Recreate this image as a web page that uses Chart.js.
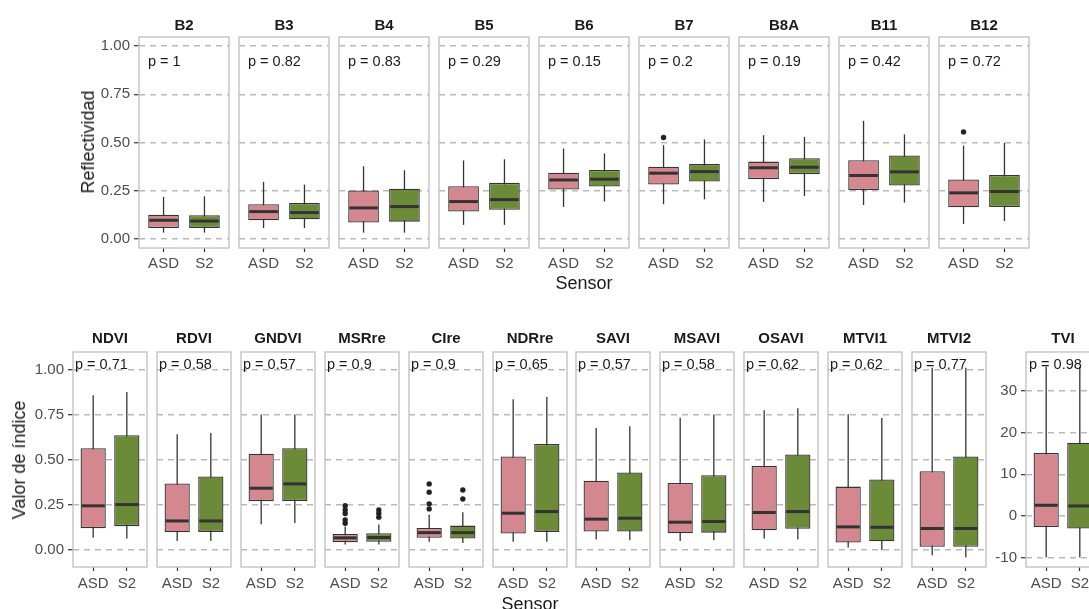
<!DOCTYPE html>
<html>
<head>
<meta charset="utf-8">
<script src="https://cdn.jsdelivr.net/npm/chart.js@4.4.1/dist/chart.umd.min.js"></script>
<style>
  html, body { margin: 0; padding: 0; background: #fff; }
  #wrap { position: relative; width: 1089px; height: 609px; overflow: hidden; }
  canvas { position: absolute; }
  .lbl { position: absolute; white-space: nowrap; line-height: 1; font-family: 'Liberation Sans', Arial, sans-serif; color: #1a1a1a; }
</style>
</head>
<body>
<div id="wrap"></div>
<script>
// data: [lower whisker, Q1, median, Q3, upper whisker]
const sensors = ['ASD', 'S2'];

const bandNames = ['B2', 'B3', 'B4', 'B5', 'B6', 'B7', 'B8A', 'B11', 'B12'];
const bandP = ['1', '0.82', '0.83', '0.29', '0.15', '0.2', '0.19', '0.42', '0.72'];
const bandAsd = [
    [0.033, 0.057, 0.097, 0.126, 0.218],
    [0.057, 0.097, 0.142, 0.180, 0.296],
    [0.033, 0.085, 0.161, 0.251, 0.377],
    [0.073, 0.142, 0.194, 0.273, 0.407],
    [0.166, 0.256, 0.306, 0.343, 0.469],
    [0.180, 0.282, 0.341, 0.375, 0.486],
    [0.192, 0.310, 0.369, 0.401, 0.538],
    [0.176, 0.254, 0.329, 0.408, 0.612],
    [0.078, 0.164, 0.239, 0.308, 0.484]
];
const bandS2 = [
    [0.033, 0.057, 0.093, 0.123, 0.221],
    [0.057, 0.102, 0.137, 0.187, 0.282],
    [0.033, 0.090, 0.168, 0.260, 0.356],
    [0.073, 0.151, 0.204, 0.291, 0.413],
    [0.194, 0.272, 0.310, 0.358, 0.443],
    [0.206, 0.298, 0.349, 0.388, 0.516],
    [0.223, 0.336, 0.372, 0.419, 0.529],
    [0.189, 0.277, 0.348, 0.433, 0.542],
    [0.093, 0.166, 0.246, 0.332, 0.498]
];
const bandAsdOut = [[], [], [], [], [], [0.526], [], [], [0.555]];
const bandS2Out = [[], [], [], [], [], [], [], [], []];

const indexNames = ['NDVI', 'RDVI', 'GNDVI', 'MSRre', 'CIre', 'NDRre', 'SAVI', 'MSAVI', 'OSAVI', 'MTVI1', 'MTVI2', 'TVI'];
const indexP = ['0.71', '0.58', '0.57', '0.9', '0.9', '0.65', '0.57', '0.58', '0.62', '0.62', '0.77', '0.98'];
const indexAsd = [
    [0.065, 0.119, 0.243, 0.563, 0.857],
    [0.048, 0.096, 0.159, 0.367, 0.641],
    [0.141, 0.269, 0.341, 0.533, 0.750],
    [0.028, 0.041, 0.065, 0.087, 0.128],
    [0.044, 0.065, 0.094, 0.120, 0.193],
    [0.043, 0.089, 0.202, 0.517, 0.835],
    [0.056, 0.100, 0.169, 0.383, 0.676],
    [0.048, 0.091, 0.152, 0.370, 0.733],
    [0.061, 0.107, 0.206, 0.465, 0.774],
    [0.011, 0.039, 0.126, 0.350, 0.752],
    [-0.031, 0.015, 0.117, 0.435, 1.010],
    [-10, -2.64, 2.56, 15.1, 35.8]
];
const indexS2 = [
    [0.061, 0.130, 0.250, 0.635, 0.876],
    [0.048, 0.098, 0.159, 0.406, 0.648],
    [0.148, 0.270, 0.365, 0.563, 0.750],
    [0.028, 0.043, 0.067, 0.091, 0.139],
    [0.037, 0.061, 0.094, 0.133, 0.207],
    [0.043, 0.098, 0.211, 0.587, 0.848],
    [0.052, 0.100, 0.174, 0.428, 0.685],
    [0.052, 0.094, 0.156, 0.413, 0.750],
    [0.056, 0.115, 0.211, 0.528, 0.785],
    [-0.002, 0.046, 0.124, 0.389, 0.731],
    [-0.044, 0.015, 0.117, 0.517, 1.010],
    [-10, -3.04, 2.4, 17.6, 35.8]
];
const indexAsdOut = [[], [], [], [0.146, 0.165, 0.2, 0.22, 0.244], [0.226, 0.254, 0.319, 0.365], [], [], [], [], [], [], []];
const indexS2Out = [[], [], [], [0.18, 0.2, 0.22], [0.281, 0.331], [], [], [], [], [], [], []];

const unitTicks = [0, 0.25, 0.5, 0.75, 1];
const tviTicks = [-10, 0, 10, 20, 30];

const FONT = "'Liberation Sans', Arial, sans-serif";
const PINK = '#d4878f';
const GREEN = '#6b8b38';
const INK = '#333333';
const wrap = document.getElementById('wrap');

function addText(txt, x, y, css) {
    const d = document.createElement('div');
    d.className = 'lbl';
    d.textContent = txt;
    d.style.left = x + 'px';
    d.style.top = y + 'px';
    Object.assign(d.style, css || {});
    wrap.appendChild(d);
    return d;
}

function boxPlugin(stats) {
    return {
        id: 'boxes',
        beforeDatasetsDraw(chart) {
            const { ctx, scales: { x, y } } = chart;
            ctx.save();
            ctx.strokeStyle = INK;
            ctx.lineWidth = 1.3;
            stats.forEach((s, i) => {
                const px = x.getPixelForValue(i + 1);
                ctx.beginPath();
                ctx.moveTo(px, y.getPixelForValue(s[0]));
                ctx.lineTo(px, y.getPixelForValue(s[4]));
                ctx.stroke();
            });
            ctx.restore();
        },
        afterDatasetsDraw(chart) {
            const { ctx, chartArea: a, scales: { y } } = chart;
            const bars = chart.getDatasetMeta(0).data;
            ctx.save();
            ctx.strokeStyle = INK;
            ctx.lineWidth = 3;
            bars.forEach((bar, i) => {
                const py = y.getPixelForValue(stats[i][2]);
                ctx.beginPath();
                ctx.moveTo(bar.x - bar.width / 2 + 1, py);
                ctx.lineTo(bar.x + bar.width / 2 - 1, py);
                ctx.stroke();
            });
            // panel border
            ctx.strokeStyle = '#c4c4c4';
            ctx.lineWidth = 1.4;
            ctx.strokeRect(a.left, a.top, a.right - a.left, a.bottom - a.top);
            ctx.restore();
        }
    };
}

function makePanel(cfg) {
    const padL = 20, padR = 20, padT = 25;
    const yW = cfg.showY ? 45 : 0;
    const xH = 32;
    const W = padL + yW + cfg.w + padR;
    const H = padT + cfg.h + xH;
    const canvas = document.createElement('canvas');
    canvas.width = W;
    canvas.height = H;
    canvas.style.left = (cfg.x - padL - yW) + 'px';
    canvas.style.top = (cfg.y - padT) + 'px';
    canvas.style.width = W + 'px';
    canvas.style.height = H + 'px';
    wrap.appendChild(canvas);

    const stats = [cfg.asd, cfg.s2];
    const outliers = cfg.asdOut.map(v => ({ x: 1, y: v }))
        .concat(cfg.s2Out.map(v => ({ x: 2, y: v })));

    new Chart(canvas, {
        type: 'bar',
        data: {
            datasets: [
                {
                    type: 'bar',
                    data: stats.map((s, i) => ({ x: i + 1, y: [s[1], s[3]] })),
                    backgroundColor: [PINK, GREEN],
                    borderColor: INK,
                    borderWidth: 1.3,
                    borderSkipped: false,
                    barPercentage: 0.75,
                    categoryPercentage: 1
                },
                {
                    type: 'scatter',
                    data: outliers,
                    pointRadius: 2.7,
                    backgroundColor: '#222',
                    borderWidth: 0
                }
            ]
        },
        options: {
            responsive: false,
            animation: false,
            devicePixelRatio: 1,
            layout: { padding: { left: padL, right: padR, top: padT, bottom: 0 } },
            plugins: { legend: { display: false }, tooltip: { enabled: false } },
            scales: {
                x: {
                    type: 'linear',
                    min: 0.4,
                    max: 2.6,
                    offset: false,
                    afterBuildTicks: s => { s.ticks = [1, 2].map(v => ({ value: v })); },
                    afterFit: s => { s.height = xH; },
                    grid: { display: true, offset: false, drawOnChartArea: false, drawTicks: true, tickLength: 4, tickColor: INK, tickWidth: 1.2, color: '#fff' },
                    border: { display: false },
                    ticks: {
                        autoSkip: false, maxRotation: 0, padding: cfg.xPad,
                        color: '#4d4d4d', font: { family: FONT, size: 15 },
                        callback: v => sensors[v - 1]
                    }
                },
                y: {
                    type: 'linear',
                    min: cfg.min,
                    max: cfg.max,
                    afterBuildTicks: s => { s.ticks = cfg.ticks.map(v => ({ value: v })); },
                    afterFit: s => { s.width = yW; },
                    grid: { color: '#b9b9b9', lineWidth: 1.4, drawTicks: cfg.showY, tickLength: 5, tickColor: INK, tickWidth: 1.2 },
                    border: { display: false, dash: [6, 5] },
                    ticks: {
                        display: cfg.showY, padding: 4,
                        color: '#4d4d4d', font: { family: FONT, size: 15 },
                        callback: cfg.fmt
                    }
                }
            }
        },
        plugins: [boxPlugin(stats)]
    });

    addText(cfg.title, cfg.x + cfg.w / 2, cfg.titleY, { transform: 'translate(-50%,-50%)', fontWeight: 'bold', fontSize: '15px' });
    addText('p = ' + cfg.p, cfg.x + cfg.pDx, cfg.pY, { transform: 'translateY(-50%)', fontSize: '14.5px' });
}

// top row: spectral bands
bandNames.forEach((name, i) => {
    makePanel({
        x: 139 + 100 * i, y: 37, w: 90, h: 211,
        min: -0.0466, max: 1.0466, ticks: unitTicks, fmt: v => v.toFixed(2),
        showY: i === 0, xPad: 3,
        asd: bandAsd[i], s2: bandS2[i], asdOut: bandAsdOut[i], s2Out: bandS2Out[i],
        title: name, titleY: 24, p: bandP[i], pDx: 9, pY: 61
    });
});

// bottom row: vegetation indices
indexNames.forEach((name, i) => {
    const isTvi = name === 'TVI';
    makePanel({
        x: isTvi ? 1026 : Math.round(73 + 83.9 * i), y: 352, w: 74, h: 215,
        min: isTvi ? -12.26 : -0.097,
        max: isTvi ? 39.36 : 1.098,
        ticks: isTvi ? tviTicks : unitTicks,
        fmt: isTvi ? (v => String(v)) : (v => v.toFixed(2)),
        showY: i === 0 || isTvi, xPad: 4,
        asd: indexAsd[i], s2: indexS2[i], asdOut: indexAsdOut[i], s2Out: indexS2Out[i],
        title: name, titleY: 337, p: indexP[i], pDx: isTvi ? 3 : 2, pY: 364
    });
});

// axis titles
addText('Sensor', 584, 283, { transform: 'translate(-50%,-50%)', fontSize: '18px' });
addText('Sensor', 530, 604, { transform: 'translate(-50%,-50%)', fontSize: '18px' });
addText('Reflectividad', 88, 142, { transform: 'translate(-50%,-50%) rotate(-90deg)', fontSize: '18px' });
addText('Valor de índice', 19, 460, { transform: 'translate(-50%,-50%) rotate(-90deg)', fontSize: '18px' });
</script>
</body>
</html>
